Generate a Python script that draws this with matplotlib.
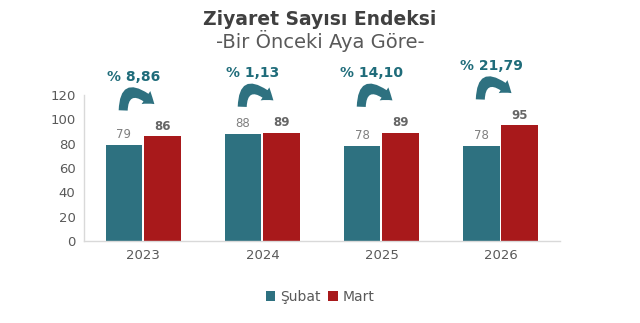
import matplotlib
matplotlib.use("Agg")
import matplotlib.pyplot as plt
from matplotlib.patches import FancyArrowPatch
import numpy as np

years = ["2023", "2024", "2025", "2026"]
subat = [79, 88, 78, 78]
mart = [86, 89, 89, 95]
changes = ["% 8,86", "% 1,13", "% 14,10", "% 21,79"]
yticks = [0, 20, 40, 60, 80, 100, 120]

teal = "#2E7180"
red = "#A8191B"
gray = "#595959"

plt.rcParams['font.family'] = ['DejaVu Sans']

fig = plt.figure(figsize=(6.4, 3.23), dpi=100)
ax = fig.add_axes([0.131, 0.254, 0.744, 0.452])

x = np.arange(len(years))
w = 0.31
gap = 0.008
b1 = ax.bar(x - w/2 - gap, subat, w, color=teal, label="Şubat")
b2 = ax.bar(x + w/2 + gap, mart, w, color=red, label="Mart")

for xi, v in zip(x, subat):
    ax.text(xi - w/2 - gap, v + 3, str(v), ha="center", va="bottom", fontsize=8.5, color="#7f7f7f")
for xi, v in zip(x, mart):
    ax.text(xi + w/2 + gap, v + 3, str(v), ha="center", va="bottom", fontsize=8.5, color="#666666", fontweight="bold")

for xi, s, m, lab in zip(x, subat, mart, changes):
    top = max(s, m)
    y0 = top + 19
    arr = FancyArrowPatch((xi - 0.17, y0), (xi + 0.11, y0 + 6),
                          connectionstyle="angle3,angleA=90,angleB=-42",
                          arrowstyle="simple,head_width=1.25,head_length=0.85,tail_width=0.72",
                          mutation_scale=9, color=teal, clip_on=False, lw=0)
    ax.add_patch(arr)
    ax.text(xi - 0.08, top + 49, lab, ha="center", va="center", fontsize=10,
            color="#1F6C7A", fontweight="bold", clip_on=False)

ax.set_ylim(0, 120)
ax.set_xlim(-0.5, 3.5)
ax.set_yticks(yticks)
ax.set_xticks(x)
ax.set_xticklabels(years)
ax.tick_params(axis="both", length=0, labelsize=9.5, colors=gray, pad=6)
for sp in ["top", "right"]:
    ax.spines[sp].set_visible(False)
for sp in ["left", "bottom"]:
    ax.spines[sp].set_color("#d9d9d9")
    ax.spines[sp].set_linewidth(1)

fig.text(0.5, 0.94, "Ziyaret Sayısı Endeksi", ha="center", va="center",
         fontsize=13.5, fontweight="bold", color="#404040")
fig.text(0.5, 0.873, "-Bir Önceki Aya Göre-", ha="center", va="center",
         fontsize=14, color="#595959")

leg = fig.legend(handles=[b1, b2], labels=["Şubat", "Mart"], loc="center",
                 bbox_to_anchor=(0.5, 0.08), ncol=2, frameon=False, fontsize=10,
                 handlelength=0.7, handleheight=0.7, handletextpad=0.3, columnspacing=0.6)
for t in leg.get_texts():
    t.set_color(gray)

fig.savefig("out.png", dpi=100)
